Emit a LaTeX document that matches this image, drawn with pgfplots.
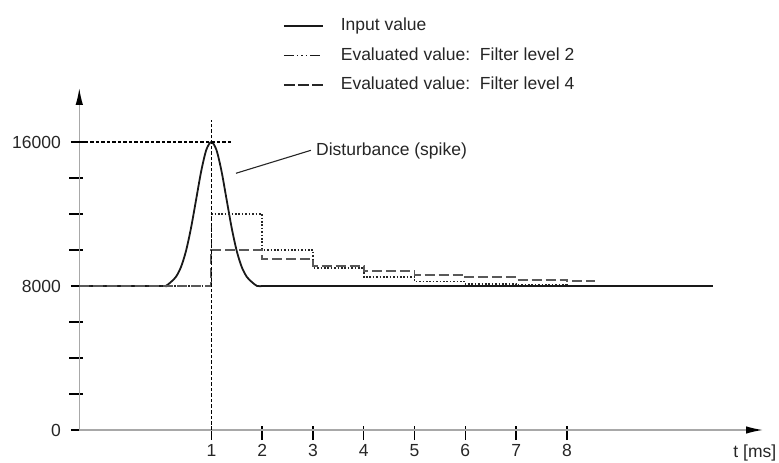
\documentclass[border=0pt]{standalone}
\usepackage{pgfplots}
\pgfplotsset{compat=1.18}
\usepackage{fontspec}
\setmainfont{Liberation Sans}
\usetikzlibrary{arrows.meta}
\definecolor{txt}{HTML}{262626}
\definecolor{axgray}{HTML}{A8A8A8}
\begin{document}
\begin{tikzpicture}
\useasboundingbox (-79.3pt,-33pt) rectangle (699.7pt,430pt);
\begin{axis}[
  at={(0pt,0pt)}, anchor=south west,
  scale only axis, width=683.7pt, height=342pt,
  xmin=-1.6, xmax=11.86, ymin=0, ymax=19000,
  clip=false,
  axis lines=left,
  axis line style={axgray, line width=1.4pt, -{Latex[length=17pt,width=7.5pt,color=black]}},
  xtick={1,2,3,4,5,6,7,8},
  xticklabels={1,2,3,4,5,6,7,8},
  ytick={0,8000,16000},
  yticklabels={0,8000,16000},
  scaled y ticks=false,
  minor ytick={2000,4000,6000,10000,12000,14000},
  tick align=center,
  major tick length=14pt, minor tick length=14pt,
  x tick style={black, line width=1.4pt, yshift=-3pt},
  y tick style={black, line width=1.4pt, xshift=-1.5pt},
  minor y tick style={black, line width=1.4pt, xshift=-1.5pt},
  tick label style={font=\fontsize{17.5}{20}\selectfont, text=txt},
  x tick label style={yshift=-4pt},
  y tick label style={xshift=-8pt},
  legend cell align=left,
  legend style={at={(0.298,1.206)}, anchor=north west, draw=none, fill=none,
    inner sep=0pt, outer sep=0pt, row sep=12.5pt,
    font=\fontsize{17.5}{20}\selectfont, text=txt,
    nodes={inner sep=0pt, text height=13pt, text depth=4pt},
    /tikz/every odd column/.append style={column sep=17pt}},
  legend image code/.code={\draw[#1] (0pt,0pt) -- (39pt,0pt);},
]
% Input value
\addplot[color=black!90, line width=1.8pt, smooth] coordinates {
(-1.6,8000) (0.0,8000) (0.1,8000) (0.2,8213) (0.3,8498) (0.4,9039) (0.5,9939)
(0.6,11230) (0.7,12803) (0.8,14377) (0.9,15559) (1.0,16000) (1.1,15559)
(1.2,14377) (1.3,12803) (1.4,11230) (1.5,9939) (1.6,9039) (1.7,8498)
(1.8,8213) (1.9,8000) (2.0,8000)};
\addlegendentry{Input value}
% Filter level 2
\addplot[color=black!85, line width=1.6pt, const plot, dash pattern=on 1.6pt off 1.8pt,
  legend image code/.code={\draw[color=black!90, line width=1.5pt,
    dash pattern=on 10pt off 3pt on 1.5pt off 3pt on 1.5pt off 3pt on 1.5pt off 3pt]
    (0pt,0pt) -- (39pt,0pt);}] coordinates {
(-1.6,8000) (1,12000) (2,10000) (3,9000) (4,8500) (5,8250) (6,8125) (7,8062)
(8,8031) (8.56,8031)};
\addlegendentry{Evaluated value:\ \ Filter level 2}
% Filter level 4
\addplot[color=black!65, line width=1.9pt, const plot, dash pattern=on 10pt off 4pt,
  legend image code/.code={\draw[color=black!85, line width=1.4pt,
    dash pattern=on 11pt off 3pt] (0pt,0pt) -- (39pt,0pt);}] coordinates {
(-1.6,8000) (1,10000) (2,9500) (3,9125) (4,8844) (5,8633) (6,8475) (7,8356)
(8,8267) (8.56,8267)};
\addlegendentry{Evaluated value:\ \ Filter level 4}
% rest of input line
\addplot[forget plot, color=black!90, line width=1.8pt] coordinates {(2.0,8000) (10.87,8000)};
% reference dashed lines
\addplot[forget plot, black, line width=1.1pt, dash pattern=on 3.5pt off 2pt] coordinates {(1,0) (1,17200)};
\addplot[forget plot, black, line width=1.1pt, dash pattern=on 3.5pt off 2pt] coordinates {(-1.6,16000) (1.43,16000)};
% annotation
\addplot[forget plot, black!85, line width=1.1pt] coordinates {(1.485,14263) (2.96,15539)};
\node[anchor=west, inner sep=0pt, text=txt, font=\fontsize{17.5}{20}\selectfont] at (axis cs:3.06,15484) {Disturbance (spike)};
\node[anchor=center, inner sep=0pt, text=txt, font=\fontsize{17.5}{20}\selectfont] at (axis cs:11.7,0) [yshift=-23pt] {t [ms]};
\end{axis}
\end{tikzpicture}
\end{document}
